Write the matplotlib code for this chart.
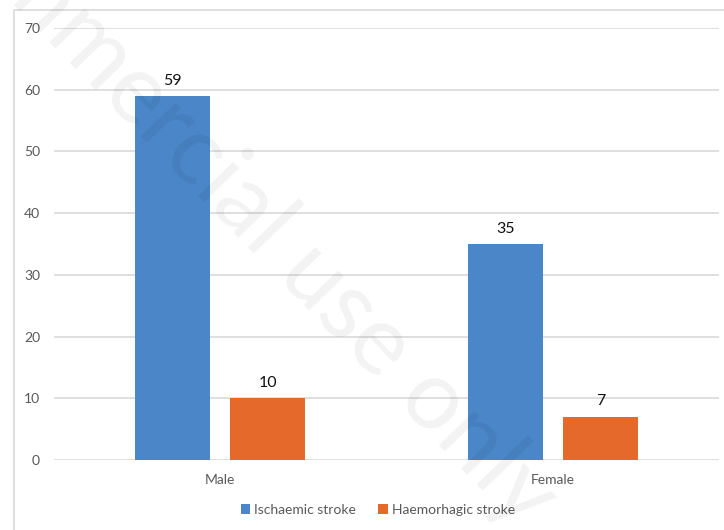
import matplotlib
matplotlib.use("Agg")
import matplotlib.pyplot as plt
from matplotlib.patches import Rectangle
import numpy as np

plt.rcParams['font.family'] = ['Lato', 'DejaVu Sans']

categories = ["Male", "Female"]
series_names = ["Ischaemic stroke", "Haemorhagic stroke"]
ischaemic = [59, 35]
haemorhagic = [10, 7]
yticks = [0, 10, 20, 30, 40, 50, 60, 70]

blue = "#4A86C8"
orange = "#E4692A"
grid_c = "#D9D9D9"
text_gray = "#595959"

W, H = 724, 530
fig = plt.figure(figsize=(W / 100, H / 100), dpi=100)
ax = fig.add_axes([54 / W, 1 - 460 / H, (719 - 54) / W, (460 - 28) / H])

x = np.arange(len(categories))
bw = 0.226
off = 0.143
b1 = ax.bar(x - off, ischaemic, bw, color=blue, label=series_names[0], zorder=3)
b2 = ax.bar(x + off, haemorhagic, bw, color=orange, label=series_names[1], zorder=3)

for bars in (b1, b2):
    for r in bars:
        ax.annotate(f"{r.get_height():g}", (r.get_x() + r.get_width() / 2, r.get_height()),
                    xytext=(0, 6), textcoords="offset points", ha="center", va="bottom",
                    fontsize=11.5, color="#111111", zorder=4)

ax.set_xlim(-0.5, 1.5)
ax.set_ylim(0, 70)
ax.set_yticks(yticks)
ax.set_xticks(x)
ax.set_xticklabels(categories)
ax.yaxis.grid(True, color=grid_c, lw=1.2, zorder=0)
ax.set_axisbelow(True)
for s in ax.spines.values():
    s.set_visible(False)
ax.tick_params(axis="both", length=0, colors=text_gray, labelsize=10)
ax.tick_params(axis="y", pad=10)
ax.tick_params(axis="x", pad=10)

leg = fig.legend(handles=[b1, b2], labels=series_names, loc="center",
                 bbox_to_anchor=(378 / W, 1 - 510 / H), ncol=2, frameon=False,
                 fontsize=10, handlelength=0.7, handleheight=0.7, handletextpad=0.3,
                 columnspacing=1.6, labelcolor=text_gray)

# chart area border
fig.patches.append(Rectangle((14 / W, -0.1), 1.2, (530 - 10) / H + 0.1,
                             transform=fig.transFigure, fill=False,
                             edgecolor=grid_c, lw=1.2, zorder=0))

# watermark
fig.text(522 / W, 1 - 532 / H, "mmercial use only", rotation=-46, rotation_mode="anchor",
         ha="right", va="baseline", fontsize=70, color="black", alpha=0.05, zorder=10)

fig.savefig("out.png", dpi=100)
